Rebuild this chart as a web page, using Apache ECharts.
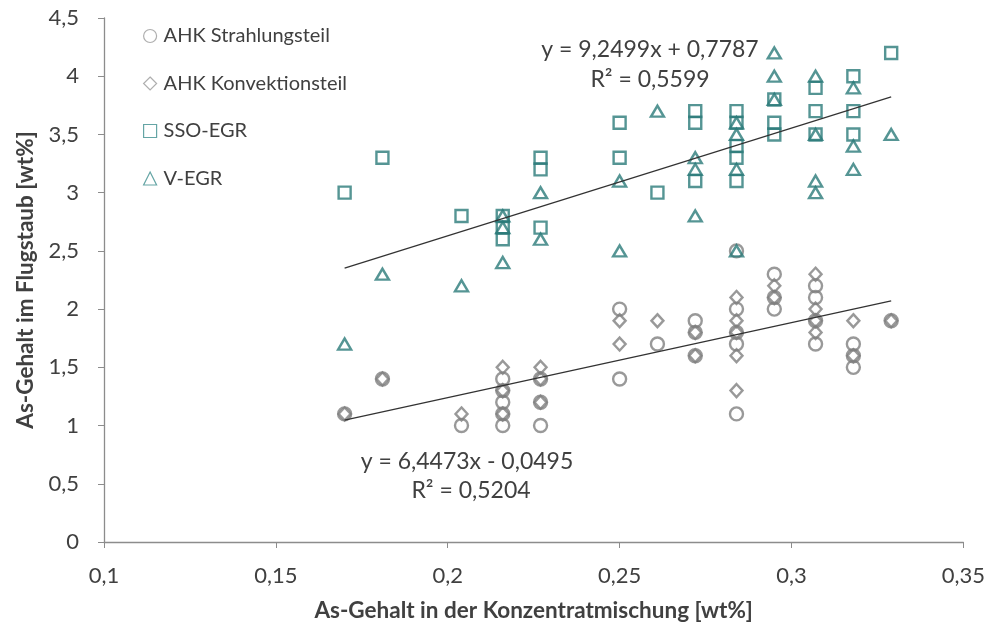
<!DOCTYPE html>
<html>
<head>
<meta charset="utf-8">
<script src="https://cdn.jsdelivr.net/npm/echarts@6/dist/echarts.min.js"></script>
<style>html,body{margin:0;padding:0;background:#fff}#c{width:988px;height:628px}</style>
</head>
<body>
<div id="c"></div>
<script>
// x categories (As-Gehalt in der Konzentratmischung)
const xA = 0.17, xB = 0.181, xC = 0.204, xD = 0.216, xE = 0.227, xF = 0.25, xG = 0.261,
      xH = 0.272, xI = 0.284, xJ = 0.295, xK = 0.307, xL = 0.318, xM = 0.329;

const strahlung = [
  [xA,1.1],[xB,1.4],[xC,1.0],
  [xD,1.4],[xD,1.3],[xD,1.2],[xD,1.1],[xD,1.0],
  [xE,1.4],[xE,1.2],[xE,1.0],
  [xF,2.0],[xF,1.4],[xG,1.7],
  [xH,1.9],[xH,1.8],[xH,1.6],
  [xI,2.5],[xI,2.0],[xI,1.8],[xI,1.7],[xI,1.1],
  [xJ,2.3],[xJ,2.1],[xJ,2.0],
  [xK,2.2],[xK,2.1],[xK,1.9],[xK,1.7],
  [xL,1.7],[xL,1.6],[xL,1.5],[xM,1.9]
];
const konvektion = [
  [xA,1.1],[xB,1.4],[xC,1.1],
  [xD,1.5],[xD,1.3],[xD,1.1],
  [xE,1.5],[xE,1.4],[xE,1.2],
  [xF,1.9],[xF,1.7],[xG,1.9],
  [xH,1.8],[xH,1.6],
  [xI,2.1],[xI,1.9],[xI,1.8],[xI,1.6],[xI,1.3],
  [xJ,2.2],[xJ,2.1],
  [xK,2.3],[xK,2.0],[xK,1.9],[xK,1.8],
  [xL,1.9],[xL,1.6],[xM,1.9]
];
const sso = [
  [xA,3.0],[xB,3.3],[xC,2.8],
  [xD,2.8],[xD,2.7],[xD,2.6],
  [xE,3.3],[xE,3.2],[xE,2.7],
  [xF,3.6],[xF,3.3],[xG,3.0],
  [xH,3.7],[xH,3.6],[xH,3.1],
  [xI,3.7],[xI,3.6],[xI,3.4],[xI,3.3],[xI,3.1],
  [xJ,3.8],[xJ,3.6],[xJ,3.5],
  [xK,3.9],[xK,3.7],[xK,3.5],
  [xL,4.0],[xL,3.7],[xL,3.5],[xM,4.2]
];
const vegr = [
  [xA,1.7],[xB,2.3],[xC,2.2],
  [xD,2.8],[xD,2.7],[xD,2.4],
  [xE,3.0],[xE,2.6],
  [xF,3.1],[xF,2.5],[xG,3.7],
  [xH,3.3],[xH,3.2],[xH,2.8],
  [xI,3.6],[xI,3.5],[xI,3.2],[xI,2.5],
  [xJ,4.2],[xJ,4.0],[xJ,3.8],
  [xK,4.0],[xK,3.5],[xK,3.1],[xK,3.0],
  [xL,3.9],[xL,3.4],[xL,3.2],[xM,3.5]
];
// Trend line coefficients [slope, intercept] as printed in the chart
const trendEGR = [9.2499, 0.7787];
const trendAHK = [6.4473, -0.0495];
const trendRange = [xA, xM];
const labelsEq = ['y = 9,2499x + 0,7787', 'R² = 0,5599', 'y = 6,4473x - 0,0495', 'R² = 0,5204'];
const seriesNames = ['AHK Strahlungsteil', 'AHK Konvektionsteil', 'SSO-EGR', 'V-EGR'];

const line = (c) => trendRange.map(x => [x, c[0] * x + c[1]]);
const fmt = v => String(+v.toFixed(2)).replace('.', ',');

const GREY = '#808080', TEAL = '#2b7a79', TXT = '#404040', AX = '#8c8c8c';
const FONT = 'Lato';

const chart = echarts.init(document.getElementById('c'), null, {renderer: 'canvas'});
const mk = (name, data, symbol, size, color) => ({
  name, type: 'scatter', data, symbol, symbolSize: size,
  itemStyle: {color: 'rgba(0,0,0,0)', borderColor: color, borderWidth: 2.4},
  emphasis: {disabled: true}, z: 3
});
const txt = (i, x, y) => ({type: 'text', x, y, style: {text: labelsEq[i], font: '23px ' + FONT, fill: TXT, align: 'center', verticalAlign: 'middle'}});
chart.setOption({
  animation: false,
  textStyle: {fontFamily: FONT},
  grid: {left: 104, right: 23, top: 18, bottom: 86},
  legend: {
    data: seriesNames.map((n, i) => ({name: n, itemStyle: {borderWidth: 1.2, borderColor: i < 2 ? '#9a9a9a' : '#3f8f8e'}})),
    orient: 'vertical', left: 143, top: 25, padding: 0, itemGap: 25.5, itemWidth: 13, itemHeight: 13,
    textStyle: {fontSize: 20, color: TXT, fontFamily: FONT, padding: [0, 0, 0, 2], lineHeight: 22},
    selectedMode: false
  },
  xAxis: {
    type: 'value', min: 0.1, max: 0.35, interval: 0.05,
    name: 'As-Gehalt in der Konzentratmischung [wt%]', nameLocation: 'middle', nameGap: 57,
    nameTextStyle: {fontSize: 22.5, fontWeight: 'bold', color: TXT, fontFamily: FONT},
    axisLine: {lineStyle: {color: AX, width: 1.3}},
    axisTick: {show: true, inside: false, length: 6, lineStyle: {color: AX}},
    axisLabel: {formatter: fmt, fontSize: 22, color: TXT, margin: 23, fontFamily: FONT},
    splitLine: {show: false}
  },
  yAxis: {
    type: 'value', min: 0, max: 4.5, interval: 0.5,
    name: 'As-Gehalt im Flugstaub [wt%]', nameLocation: 'middle', nameGap: 67, nameRotate: 90,
    nameTextStyle: {fontSize: 22.5, fontWeight: 'bold', color: TXT, fontFamily: FONT},
    axisLine: {show: true, lineStyle: {color: AX, width: 1.3}},
    axisTick: {show: true, inside: false, length: 6, lineStyle: {color: AX}},
    axisLabel: {formatter: fmt, fontSize: 22, color: TXT, margin: 25, fontFamily: FONT},
    splitLine: {show: false}
  },
  series: [
    mk(seriesNames[0], strahlung, 'circle', 13, GREY),
    mk(seriesNames[1], konvektion, 'diamond', [12, 13], GREY),
    mk(seriesNames[2], sso, 'rect', 12, TEAL),
    mk(seriesNames[3], vegr, 'triangle', [13, 11], TEAL),
    {type: 'line', data: line(trendEGR), symbol: 'none', lineStyle: {color: '#333', width: 1.3}, z: 4, silent: true},
    {type: 'line', data: line(trendAHK), symbol: 'none', lineStyle: {color: '#333', width: 1.3}, z: 4, silent: true}
  ],
  graphic: [txt(0, 650, 50), txt(1, 650, 80), txt(2, 467, 462), txt(3, 471, 491)]
});
</script>
</body>
</html>
